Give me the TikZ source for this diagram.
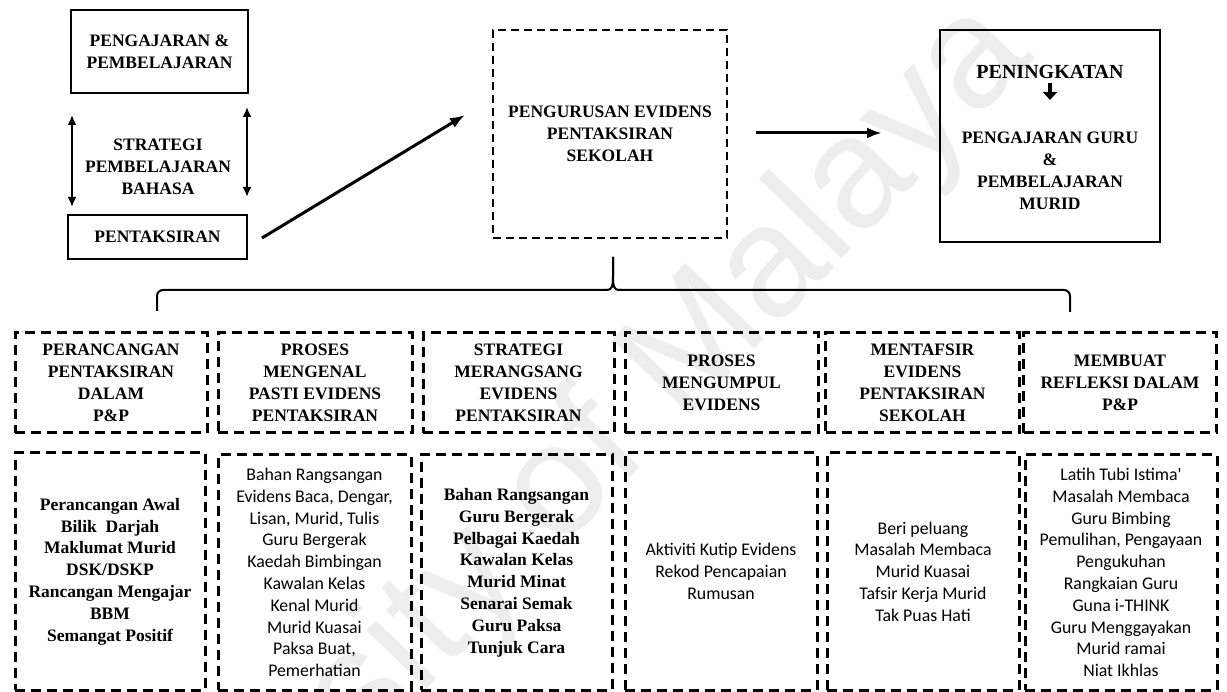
\documentclass[tikz,border=0pt]{standalone}
\usepackage{fontspec}
\setmainfont{Liberation Serif}
\newfontfamily\calfont{Carlito}
\newfontfamily\wmfont{Liberation Sans}
\usetikzlibrary{arrows.meta}

\newcommand{\hdfont}{\fontsize{17.5}{22}\selectfont\bfseries}
\newcommand{\tmfont}{\fontsize{17.5}{21.8}\selectfont\bfseries}
\newcommand{\cbfont}{\calfont\fontsize{17.8}{21.8}\selectfont}

\tikzset{
  solidbox/.style={draw, line width=1.8pt, align=center, inner sep=0pt, font=\hdfont},
  topdash/.style={draw, line width=2.2pt, dash pattern=on 8pt off 5pt, align=center, inner sep=0pt, font=\hdfont},
  headbox/.style={draw, line width=3pt, dash pattern=on 10pt off 6pt, align=center, inner sep=0pt,
    minimum height=100pt, font=\hdfont},
  listbox/.style={draw, line width=3pt, dash pattern=on 10pt off 6pt, align=center, inner sep=0pt},
  plain/.style={align=center, inner sep=0pt, font=\hdfont},
  bigarrow/.style={line width=3pt, -{Latex[length=15pt,width=11pt]}},
  twoway/.style={line width=2.5pt, {Latex[length=10pt,width=9pt]}-{Latex[length=10pt,width=9pt]}},
  bracket/.style={line width=2pt, rounded corners=6pt},
}

\begin{document}
\begin{tikzpicture}[x=1pt, y=-1pt]
\useasboundingbox (0,0) rectangle (1227,692);
\fill[white] (0,0) rectangle (1227,692);

% faint watermark behind the chart
\begin{scope}
  \clip (0,0) rectangle (1227,692);
  \node[rotate=46, anchor=base east, inner sep=0pt, text=black!7,
        font=\wmfont\fontsize{158}{158}\selectfont] (wm) at (1036,58) {University of Malaya};
\end{scope}

% upper row
\node[solidbox, minimum width=177pt, minimum height=83pt] (pp) at (159.5,51.5) {PENGAJARAN \&\\PEMBELAJARAN};
\node[plain] (strat) at (158,167) {STRATEGI\\PEMBELAJARAN\\BAHASA};
\node[solidbox, minimum width=179pt, minimum height=44pt] (pent) at (157.5,237) {PENTAKSIRAN};
\node[topdash, minimum width=234pt, minimum height=208pt] (peng) at (610,134) {PENGURUSAN EVIDENS\\PENTAKSIRAN\\SEKOLAH};
\node[solidbox, minimum width=220pt, minimum height=212pt] (ting) at (1050,136) {};
\node[plain, font=\fontsize{20}{24}\selectfont\bfseries] (tingA) at (1050,72) {PENINGKATAN};
\node[plain] (tingB) at (1050,171) {PENGAJARAN GURU\\\&\\PEMBELAJARAN\\MURID};

% two-way arrows beside the strategy label
\coordinate (lu) at (72,115);
\coordinate (ld) at (72,207);
\coordinate (ru) at (247,107);
\coordinate (rd) at (247,197);
\draw[twoway] (lu) -- (ld);
\draw[twoway] (ru) -- (rd);

% main flow arrows
\coordinate (f1s) at (262,238);
\coordinate (f1e) at (465,115);
\draw[bigarrow] (f1s) -- (f1e);
\coordinate (f2s) at (756,133);
\coordinate (f2e) at (882,133);
\draw[bigarrow] (f2s) -- (f2e);

% small arrow inside the outcome box
\coordinate (sa) at (1050,83);
\coordinate (sb) at (1050,100);
\draw[line width=4pt, -{Triangle[length=8pt,width=14pt]}] (sa) -- (sb);

% bracket from the centre box down to the six headings
\coordinate (brL) at (157,311);
\coordinate (brR) at (1070,312);
\coordinate (brT) at (613,257);
\draw[bracket] (brL) -- (157,290) -- (606,290);
\draw[line width=2pt] (604,290) -- (607,290) .. controls (612,290) and (613,286) .. (613,276) -- (brT);
\draw[line width=2pt] (brT) -- (613,276) .. controls (613,286) and (614,290) .. (619,290) -- (622,290);
\draw[bracket] (620,290) -- (1070,290) -- (brR);

% headings
\node[headbox, minimum width=192pt] (h1) at (111,383) {PERANCANGAN\\PENTAKSIRAN\\DALAM\\P\&P};
\node[headbox, minimum width=194pt] (h2) at (315,383) {PROSES\\MENGENAL\\PASTI EVIDENS\\PENTAKSIRAN};
\node[headbox, minimum width=191pt] (h3) at (518.5,383) {STRATEGI\\MERANGSANG\\EVIDENS\\PENTAKSIRAN};
\node[headbox, minimum width=193pt] (h4) at (721.5,383) {PROSES\\MENGUMPUL\\EVIDENS};
\node[headbox, minimum width=194pt] (h5) at (922.5,383) {MENTAFSIR\\EVIDENS\\PENTAKSIRAN\\SEKOLAH};
\node[headbox, minimum width=193pt] (h6) at (1120,383) {MEMBUAT\\REFLEKSI DALAM\\P\&P};

% lists
\node[listbox, font=\tmfont, minimum width=190pt, minimum height=237pt] (b1) at (110,571.5)
  {Perancangan Awal\\Bilik\ \ Darjah\\Maklumat Murid\\DSK/DSKP\\Rancangan Mengajar\\BBM\\Semangat Positif};
\node[listbox, font=\cbfont, minimum width=193pt, minimum height=235pt] (b2) at (314.5,572.5)
  {Bahan Rangsangan\\Evidens Baca, Dengar,\\Lisan, Murid, Tulis\\Guru Bergerak\\Kaedah Bimbingan\\Kawalan Kelas\\Kenal Murid\\Murid Kuasai\\Paksa Buat,\\Pemerhatian};
\node[listbox, font=\tmfont, minimum width=191pt, minimum height=235pt] (b3) at (516.5,572.5)
  {Bahan Rangsangan\\Guru Bergerak\\Pelbagai Kaedah\\Kawalan Kelas\\Murid Minat\\Senarai Semak\\Guru Paksa\\Tunjuk Cara};
\node[listbox, font=\cbfont, minimum width=192pt, minimum height=237pt] (b4) at (721,571.5)
  {Aktiviti Kutip Evidens\\Rekod Pencapaian\\Rumusan};
\node[listbox, font=\cbfont, minimum width=192pt, minimum height=237pt] (b5) at (923,571.5)
  {Beri peluang\\Masalah\ Membaca\\Murid\ Kuasai\\Tafsir Kerja Murid\\Tak Puas Hati};
\node[listbox, font=\cbfont, minimum width=192pt, minimum height=235pt] (b6) at (1121,572.5)
  {Latih Tubi Istima'\\Masalah\ Membaca\\Guru Bimbing\\Pemulihan, Pengayaan\\Pengukuhan\\Rangkaian\ Guru\\Guna i-THINK\\Guru Menggayakan\\Murid ramai\\Niat Ikhlas};
\end{tikzpicture}
\end{document}
